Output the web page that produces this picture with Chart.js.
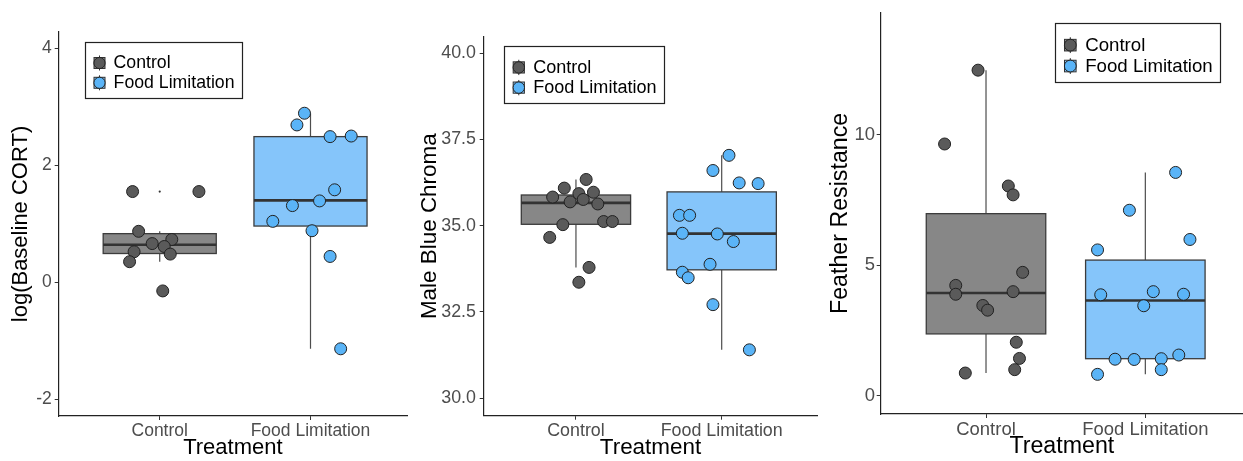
<!DOCTYPE html>
<html>
<head>
<meta charset="utf-8">
<script src="https://cdn.jsdelivr.net/npm/chart.js@4.4.1/dist/chart.umd.min.js"></script>
<style>
  html, body { margin: 0; padding: 0; background: #fff; }
  body { position: relative; width: 1243px; height: 461px; overflow: hidden; }
  .panel { position: absolute; top: 0; height: 461px; }
</style>
</head>
<body>
<div class="panel" style="left:0;width:410px"><canvas id="cort"></canvas></div>
<div class="panel" style="left:410px;width:410px"><canvas id="chroma"></canvas></div>
<div class="panel" style="left:820px;width:423px"><canvas id="feather"></canvas></div>
<script>
const groups = ["Control", "Food Limitation"];

// box stats: [lower whisker, Q1, median, Q3, upper whisker]
// x arrays are the jittered positions around group 1 / group 2

// log(Baseline CORT)
const cortTicks = [-2, 0, 2, 4];
const cortControlX = [0.82, 1.26, 0.86, 0.95, 1.08, 1.03, 0.83, 1.07, 0.80, 1.02];
const cortControlY = [1.55, 1.55, 0.87, 0.66, 0.73, 0.61, 0.52, 0.48, 0.35, -0.15];
const cortFoodX = [1.96, 1.91, 2.13, 2.27, 2.16, 2.06, 1.88, 1.75, 2.01, 2.13, 2.20];
const cortFoodY = [2.89, 2.69, 2.49, 2.50, 1.58, 1.39, 1.31, 1.04, 0.88, 0.44, -1.14];
const cortControlBox = [0.35, 0.49, 0.64, 0.83, 0.87];
const cortFoodBox = [-1.14, 0.96, 1.40, 2.49, 2.89];
const cortControlOut = [1.55, -0.15];
const cortFoodOut = [];

// Male Blue Chroma
const chromaTicks = [30, 32.5, 35, 37.5, 40];
const chromaControlX = [1.07, 0.92, 0.84, 1.02, 1.12, 0.96, 1.05, 1.15, 1.19, 1.25, 0.91, 0.82, 1.09, 1.02];
const chromaControlY = [36.34, 36.09, 35.83, 35.93, 35.97, 35.69, 35.76, 35.63, 35.12, 35.12, 35.03, 34.66, 33.79, 33.36];
const chromaFoodX = [2.05, 1.94, 2.12, 2.25, 1.71, 1.78, 1.73, 1.97, 2.08, 1.92, 1.73, 1.77, 1.94, 2.19];
const chromaFoodY = [37.04, 36.60, 36.24, 36.22, 35.30, 35.30, 34.78, 34.76, 34.54, 33.88, 33.65, 33.49, 32.71, 31.40];
const chromaControlBox = [33.79, 35.04, 35.66, 35.89, 36.34];
const chromaFoodBox = [31.40, 33.72, 34.77, 35.98, 37.04];
const chromaControlOut = [33.36];
const chromaFoodOut = [];

// Feather Resistance
const featherTicks = [0, 5, 10];
const featherControlX = [0.95, 0.74, 1.14, 1.17, 1.23, 0.81, 0.81, 1.17, 0.98, 1.01, 1.19, 1.21, 1.18, 0.87];
const featherControlY = [12.47, 9.64, 8.03, 7.69, 4.72, 4.22, 3.88, 3.98, 3.45, 3.27, 2.04, 1.42, 0.99, 0.86];
const featherFoodX = [2.19, 1.90, 2.28, 1.70, 1.72, 2.05, 2.24, 1.99, 1.81, 1.93, 2.10, 2.21, 2.10, 1.70];
const featherFoodY = [8.55, 7.10, 5.98, 5.58, 3.86, 3.98, 3.88, 3.44, 1.39, 1.38, 1.41, 1.55, 0.99, 0.81];
const featherControlBox = [0.86, 2.36, 3.93, 6.97, 12.47];
const featherFoodBox = [0.81, 1.41, 3.64, 5.19, 8.55];
const featherControlOut = [];
const featherFoodOut = [];

const FONT = '"Liberation Sans", Arial, Helvetica, sans-serif';
const pointFill = ["#5a5a5a", "#5ab4f7"];
const boxFill = ["#878787", "#85c5fa"];
const BOX_WIDTH = 0.75;

Chart.defaults.font.family = FONT;

// whiskers + boxes under the points, legend on top of everything
function boxLayer(sets, legendAt, s) {
  return {
    id: "boxLayer",
    beforeDatasetsDraw(chart) {
      const {ctx, scales: {x, y}} = chart;
      ctx.save();
      sets.forEach((g, i) => {
        const [lo, q1, med, q3, hi] = g.box;
        const cx = x.getPixelForValue(i + 1);
        const left = x.getPixelForValue(i + 1 - BOX_WIDTH / 2);
        const right = x.getPixelForValue(i + 1 + BOX_WIDTH / 2);
        const top = y.getPixelForValue(q3);
        const bot = y.getPixelForValue(q1);

        ctx.strokeStyle = "#4d4d4d";
        ctx.lineWidth = 1.2;
        ctx.beginPath();
        ctx.moveTo(cx, y.getPixelForValue(hi));
        ctx.lineTo(cx, top);
        ctx.moveTo(cx, bot);
        ctx.lineTo(cx, y.getPixelForValue(lo));
        ctx.stroke();

        ctx.fillStyle = boxFill[i];
        ctx.fillRect(left, top, right - left, bot - top);
        ctx.strokeStyle = "#3c3c3c";
        ctx.lineWidth = 1.3;
        ctx.strokeRect(left, top, right - left, bot - top);

        const my = y.getPixelForValue(med);
        ctx.strokeStyle = "#333";
        ctx.lineWidth = 2.6;
        ctx.beginPath();
        ctx.moveTo(left, my);
        ctx.lineTo(right, my);
        ctx.stroke();

        ctx.fillStyle = "#333";
        g.out.forEach(v => {
          ctx.beginPath();
          ctx.arc(cx, y.getPixelForValue(v), 1.1, 0, Math.PI * 2);
          ctx.fill();
        });
      });
      ctx.restore();
    },
    afterDraw(chart) {
      const {ctx, chartArea} = chart;
      const lx = Math.round(chartArea.left + legendAt[0]);
      const ly = Math.round(chartArea.top + legendAt[1]);
      ctx.save();
      ctx.font = `${17.7 * s}px ${FONT}`;
      const tw = Math.max(...groups.map(t => ctx.measureText(t).width));
      const w = Math.round(28.6 * s + tw + 7 * s);
      const h = Math.round(56 * s);
      ctx.fillStyle = "#fff";
      ctx.fillRect(lx, ly, w, h);
      ctx.strokeStyle = "#222";
      ctx.lineWidth = 1.2;
      ctx.strokeRect(lx + 0.5, ly + 0.5, w, h);

      groups.forEach((name, i) => {
        const kx = lx + 14.5 * s;
        const ky = ly + (21 + 19.8 * i) * s;
        ctx.strokeStyle = "#333";
        ctx.lineWidth = 1;
        ctx.beginPath();
        ctx.moveTo(kx, ky - 7.5 * s);
        ctx.lineTo(kx, ky + 7.5 * s);
        ctx.stroke();
        ctx.fillStyle = boxFill[i];
        ctx.fillRect(kx - 5.5 * s, ky - 5.5 * s, 11 * s, 11 * s);
        ctx.strokeRect(kx - 5.5 * s, ky - 5.5 * s, 11 * s, 11 * s);
        ctx.beginPath();
        ctx.arc(kx, ky, 5.6 * s, 0, Math.PI * 2);
        ctx.fillStyle = pointFill[i];
        ctx.fill();
        ctx.strokeStyle = "#222";
        ctx.stroke();

        ctx.fillStyle = "#000";
        ctx.textBaseline = "middle";
        ctx.textAlign = "left";
        ctx.fillText(name, lx + 28.6 * s, ky + 0.5);
      });
      ctx.restore();
    }
  };
}

function makePanel(id, p) {
  const sets = [
    {x: p.controlX, y: p.controlY, box: p.controlBox, out: p.controlOut},
    {x: p.foodX, y: p.foodY, box: p.foodBox, out: p.foodOut}
  ];
  const s = p.s;

  return new Chart(document.getElementById(id), {
    type: "scatter",
    data: {
      datasets: sets.map((g, i) => ({
        label: groups[i],
        data: g.x.map((xv, k) => ({x: xv, y: g.y[k]})),
        backgroundColor: pointFill[i],
        borderColor: "#222",
        borderWidth: 1,
        pointRadius: 6,
        pointHoverRadius: 6
      }))
    },
    options: {
      responsive: true,
      maintainAspectRatio: false,
      animation: false,
      events: [],
      layout: {
        autoPadding: false,
        padding: {left: 0, right: p.padRight, top: p.padTop, bottom: 0}
      },
      plugins: {legend: {display: false}, tooltip: {enabled: false}},
      scales: {
        x: {
          type: "linear",
          min: p.xRange[0],
          max: p.xRange[1],
          afterBuildTicks: sc => { sc.ticks = [{value: 1}, {value: 2}]; },
          afterFit: sc => { sc.height = p.axisH; },
          ticks: {
            callback: v => groups[Math.round(v) - 1],
            color: "#4d4d4d",
            font: {size: 17.5 * s},
            padding: 1,
            maxRotation: 0,
            autoSkip: false
          },
          grid: {drawOnChartArea: false, tickLength: 4, color: "#333"},
          border: {display: true, color: "#222", width: 1.2},
          title: {
            display: true,
            text: "Treatment",
            color: "#000",
            font: {size: 22 * s},
            padding: {top: 0, bottom: 0}
          }
        },
        y: {
          type: "linear",
          min: p.yRange[0],
          max: p.yRange[1],
          afterBuildTicks: sc => { sc.ticks = p.yTicks.map(v => ({value: v})); },
          afterFit: sc => { sc.width = p.axisW; },
          ticks: {
            callback: p.yFmt,
            color: "#4d4d4d",
            font: {size: 17.5 * s},
            padding: p.tickPad
          },
          grid: {drawOnChartArea: false, tickLength: 4, color: "#333"},
          border: {display: true, color: "#222", width: 1.2},
          title: {
            display: true,
            text: p.yTitle,
            color: "#000",
            font: {size: 22 * s},
            padding: {top: p.titlePad, bottom: 0}
          }
        }
      }
    },
    plugins: [boxLayer(sets, p.legendAt, s)]
  });
}

makePanel("cort", {
  yTitle: "log(Baseline CORT)", s: 1,
  xRange: [0.33, 2.64], yRange: [-2.29, 4.28], yTicks: cortTicks, yFmt: v => String(v),
  axisW: 58.7, axisH: 45, padTop: 32, padRight: 3, titlePad: 8, tickPad: 3,
  legendAt: [26, 9.7],
  controlX: cortControlX, controlY: cortControlY, controlBox: cortControlBox, controlOut: cortControlOut,
  foodX: cortFoodX, foodY: cortFoodY, foodBox: cortFoodBox, foodOut: cortFoodOut
});

makePanel("chroma", {
  yTitle: "Male Blue Chroma", s: 1.02,
  xRange: [0.367, 2.656], yRange: [29.49, 40.48], yTicks: chromaTicks, yFmt: v => v.toFixed(1),
  axisW: 73.7, axisH: 45.3, padTop: 36.7, padRight: 2.7, titlePad: 6.2, tickPad: 3.7,
  legendAt: [20.6, 9],
  controlX: chromaControlX, controlY: chromaControlY, controlBox: chromaControlBox, controlOut: chromaControlOut,
  foodX: chromaFoodX, foodY: chromaFoodY, foodBox: chromaFoodBox, foodOut: chromaFoodOut
});

makePanel("feather", {
  yTitle: "Feather Resistance", s: 1.055,
  xRange: [0.339, 2.613], yRange: [-0.71, 14.67], yTicks: featherTicks, yFmt: v => String(v),
  axisW: 60.7, axisH: 47, padTop: 10, padRight: 0, titlePad: 6.3, tickPad: 1.7,
  legendAt: [174.3, 10],
  controlX: featherControlX, controlY: featherControlY, controlBox: featherControlBox, controlOut: featherControlOut,
  foodX: featherFoodX, foodY: featherFoodY, foodBox: featherFoodBox, foodOut: featherFoodOut
});
</script>
</body>
</html>
